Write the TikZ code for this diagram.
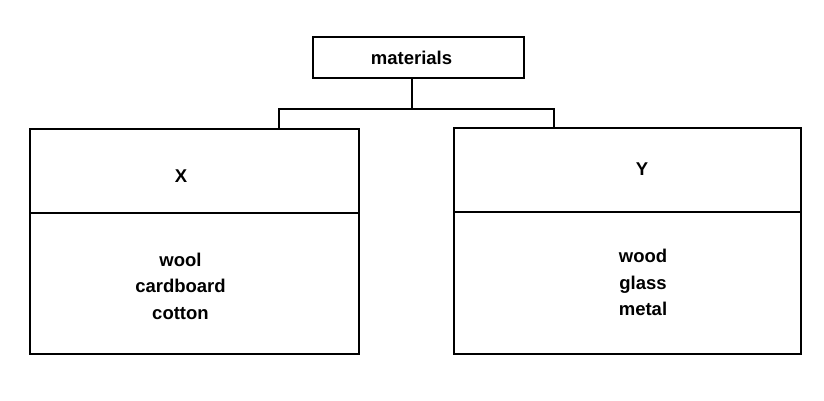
\documentclass[tikz,border=0pt]{standalone}
\usepackage{fontspec}
\setmainfont{Liberation Sans}
\usetikzlibrary{positioning}

\begin{document}
\begin{tikzpicture}[x=1pt, y=-1pt,
    box/.style={draw, line width=1.2pt, rectangle, inner sep=0pt, outer sep=0pt},
    lbl/.style={font=\fontsize{18.5}{26.5}\selectfont\bfseries, align=center, inner sep=0pt}
    ]
    \useasboundingbox (0,0) rectangle (824,400);

    % root
    \node[box, minimum width=211pt, minimum height=41pt] (top) at (418.5, 57.5) {};
    \node[lbl] (toptext) at (411.5, 57.5) {materials};

    % left group
    \node[box, minimum width=329pt, minimum height=84pt] (xhead) at (194.5, 171) {};
    \node[box, minimum width=329pt, minimum height=141pt] (xbody) at (194.5, 283.5) {};
    \node[lbl] (xname) at (181, 176.5) {X};
    \node[lbl] (xlist) at (180.5, 286) {wool\\cardboard\\cotton};

    % right group
    \node[box, minimum width=347pt, minimum height=84pt] (yhead) at (627.5, 170) {};
    \node[box, minimum width=347pt, minimum height=142pt] (ybody) at (627.5, 283) {};
    \node[lbl] (yname) at (642, 169.5) {Y};
    \node[lbl] (ylist) at (643, 282.5) {wood\\glass\\metal};

    % connectors
    \coordinate (fork) at (412, 109);
    \coordinate (xin) at (279, 129);
    \coordinate (yin) at (554, 128);
    \draw[line width=1.2pt] (fork |- top.south) -- (fork);
    \draw[line width=1.2pt] (fork) -| (xin);
    \draw[line width=1.2pt] (fork) -| (yin);

\end{tikzpicture}
\end{document}
